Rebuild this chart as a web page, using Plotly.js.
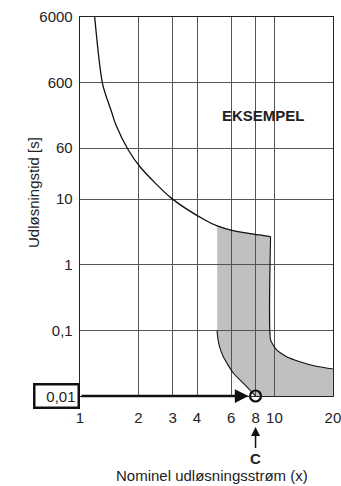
<!DOCTYPE html>
<html>
<head>
<meta charset="utf-8">
<script src="https://cdn.plot.ly/plotly-3.0.1.min.js"></script>
<style>html,body{margin:0;padding:0;background:#fff;}#chart{width:341px;height:486px;}</style>
</head>
<body>
<div id="chart"></div>
<script>
// Tick values and labels
const xTickVals = [1, 2, 3, 4, 6, 8, 10, 20];
const xTickText = ['1', '2', '3', '4', '6', '8', '10', '20'];
const yTickVals = [0.01, 0.1, 1, 10, 60, 600, 6000];
const yTickText = ['', '0,1', '1', '10', '60', '600', '6000'];

// Upper tripping curve (thermal)
const curveX = [1.19, 1.308, 1.443, 1.531, 1.772, 2.035, 2.962, 4.39, 5.08, 6.14, 8.36, 9.56];
const curveY = [6000, 565, 229, 135, 56.3, 31.3, 10.3, 4.82, 3.91, 3.31, 2.85, 2.69];

// Shaded band (magnetic tripping zone)
const bandX = [5.08, 6.14, 8.36, 9.56, 9.56, 10.27, 11.56, 13.53, 16.2, 20, 20, 8, 7.20, 6.14, 5.46, 5.20, 5.08, 5.08];
const bandY = [3.91, 3.31, 2.85, 2.69, 0.0715, 0.0503, 0.0398, 0.0334, 0.0287, 0.0258, 0.01, 0.01, 0.0139, 0.0224, 0.0398, 0.0593, 0.0914, 3.91];

// Band outlines
const rightEdgeX = [9.56, 9.56, 10.27, 11.56, 13.53, 16.2, 20];
const rightEdgeY = [2.69, 0.0715, 0.0503, 0.0398, 0.0334, 0.0287, 0.0258];
const leftEdgeX = [5.08, 5.08, 5.20, 5.46, 6.14, 7.20, 8];
const leftEdgeY = [0.1, 0.0914, 0.0593, 0.0398, 0.0224, 0.0139, 0.01];

// Example point
const pointX = [8];
const pointY = [0.01];
const exampleCurrent = 8;
const exampleTime = 0.01;
const exampleTimeLabel = '0,01';

const font = 'Liberation Sans, Arial, sans-serif';

const traces = [
  {x: bandX, y: bandY, mode: 'lines', fill: 'toself', fillcolor: 'rgba(80,80,90,0.36)',
   line: {width: 0}, hoverinfo: 'skip', showlegend: false},
  {x: curveX, y: curveY, mode: 'lines', line: {color: '#111', width: 1.3, shape: 'spline', smoothing: 0.8},
   showlegend: false},
  {x: rightEdgeX, y: rightEdgeY, mode: 'lines', line: {color: '#111', width: 1.1, shape: 'spline', smoothing: 0.5},
   showlegend: false},
  {x: leftEdgeX, y: leftEdgeY, mode: 'lines', line: {color: '#111', width: 1.1, shape: 'spline', smoothing: 0.5},
   showlegend: false},
  {x: pointX, y: pointY, mode: 'markers', cliponaxis: false,
   marker: {symbol: 'circle-open', size: 11, color: '#111', line: {width: 2.2, color: '#111'}},
   showlegend: false}
];

const layout = {
  width: 341, height: 486,
  margin: {l: 80, r: 8, t: 17, b: 90, pad: 0},
  paper_bgcolor: '#fff', plot_bgcolor: '#fff',
  font: {family: font, size: 15, color: '#222'},
  showlegend: false,
  xaxis: {
    type: 'log', range: [0, Math.log10(20) + 0.0005],
    tickvals: xTickVals, ticktext: xTickText, ticklabeloverflow: 'allow',
    ticks: 'outside', ticklen: 8, tickcolor: 'rgba(0,0,0,0)',
    showgrid: true, gridcolor: '#555', gridwidth: 1,
    showline: true, linecolor: '#222', linewidth: 1.3, mirror: true,
    zeroline: false, tickfont: {family: font, size: 15, color: '#222'}
  },
  yaxis: {
    type: 'log', range: [-2, Math.log10(6000)],
    tickvals: yTickVals, ticktext: yTickText,
    ticks: 'outside', ticklen: 3, tickcolor: 'rgba(0,0,0,0)',
    showgrid: true, gridcolor: '#555', gridwidth: 1,
    showline: true, linecolor: '#222', linewidth: 1.3, mirror: true,
    zeroline: false, tickfont: {family: font, size: 15, color: '#222'}
  },
  annotations: [
    {xref: 'paper', yref: 'paper', x: 0.727, y: 0.741, xanchor: 'center', yanchor: 'middle',
     text: '<b>EKSEMPEL</b>', showarrow: false, font: {family: font, size: 15, color: '#222'}},
    {xref: 'paper', yref: 'paper', x: -0.186, y: 0.538, xanchor: 'center', yanchor: 'middle',
     text: 'Udløsningstid [s]', textangle: -90, showarrow: false,
     font: {family: font, size: 15, color: '#222'}},
    {xref: 'paper', yref: 'paper', x: 0.52, y: -0.211, xanchor: 'center', yanchor: 'middle',
     text: 'Nominel udløsningsstrøm (x)', showarrow: false,
     font: {family: font, size: 15, color: '#222'}},
    {xref: 'paper', yref: 'y', x: 0, y: Math.log10(exampleTime), xanchor: 'right', yanchor: 'middle',
     text: exampleTimeLabel, showarrow: false, align: 'right', width: 38, height: 17,
     bordercolor: '#111', borderwidth: 2.5, borderpad: 2, bgcolor: '#fff',
     font: {family: font, size: 15, color: '#222'}},
    {xref: 'x', yref: 'y', x: Math.log10(exampleCurrent), y: Math.log10(exampleTime),
     axref: 'x', ayref: 'y', ax: 0, ay: Math.log10(exampleTime), text: '',
     showarrow: true, arrowhead: 2, arrowsize: 1.1, arrowwidth: 2.5, arrowcolor: '#111', standoff: 7},
    {xref: 'x', yref: 'paper', x: Math.log10(exampleCurrent), y: -0.0818, ax: 0, ay: 31,
     text: '<b>C</b>', showarrow: true, arrowhead: 2, arrowsize: 1.2, arrowwidth: 1.5, arrowcolor: '#111',
     font: {family: font, size: 15, color: '#222'}}
  ]
};

Plotly.newPlot('chart', traces, layout, {displayModeBar: false, staticPlot: true});
</script>
</body>
</html>
